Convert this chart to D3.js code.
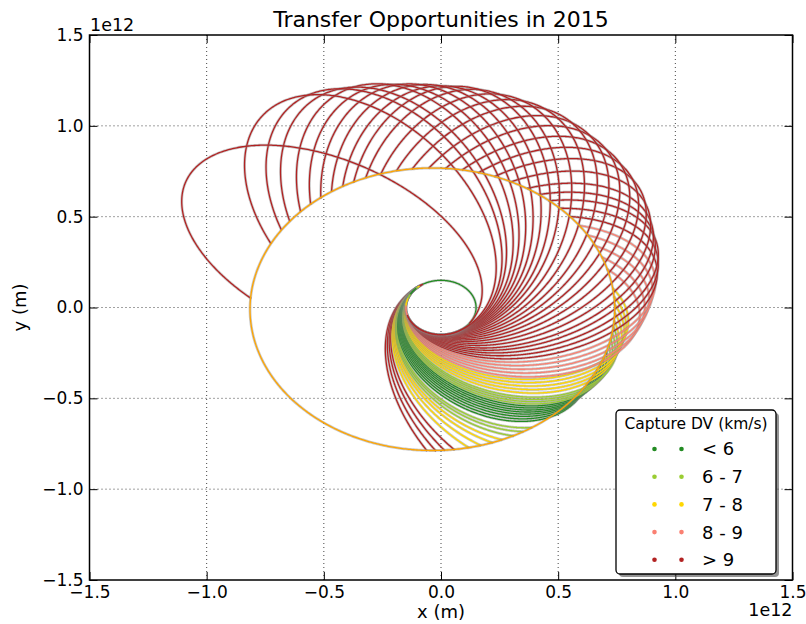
<!DOCTYPE html>
<html>
<head>
<meta charset="utf-8">
<script src="https://cdnjs.cloudflare.com/ajax/libs/d3/7.8.5/d3.min.js"></script>
<style>
body { margin: 0; background: #fff; }
text { font-family: "DejaVu Sans", sans-serif; fill: #000; }
.grid line { stroke: #444; stroke-width: 1; stroke-dasharray: 1,3; }
.axis path { display: none; }
.axis line { stroke: #000; stroke-width: 1; }
.axis text { font-size: 17px; font-family: "DejaVu Sans", sans-serif; fill: #000; }
.halo { fill: none; stroke: #888; stroke-opacity: 0.45; stroke-width: 2.8; }
.orbit { fill: none; stroke-width: 1.3; }
</style>
</head>
<body>
<div id="chart"></div>
<script>
// all distances in units of 1e12 m (the axes show the "1e12" offset)
var xTicks = [-1.5, -1.0, -0.5, 0.0, 0.5, 1.0, 1.5];
var yTicks = [-1.5, -1.0, -0.5, 0.0, 0.5, 1.0, 1.5];

var dvLabels = ["< 6", "6 - 7", "7 - 8", "8 - 9", "> 9"];
var dvColors = ["#228B22", "#9ACD32", "#FFD700", "#FA8072", "#B22222"];

// planets
var earthRadius = 0.1496;
var jupiterA = 0.7783, jupiterE = 0.0489, jupiterPeriLon = 14.75;

// one entry per transfer, in order of departure date
// departLon: heliocentric longitude of the Earth departure (deg), also the transfer perihelion
// aphelion: transfer aphelion distance
// arrivalLeg: 1 = arrive on the way out, 2 = arrive on the way back in
// dvClass: index into dvLabels
var departLon = [121, 123, 125, 126.5,
    127.5, 128.5, 129.5, 130.5,
    131.5, 132.5, 133.5,
    135, 137, 139, 141, 143, 145, 147, 149,
    151, 153, 155, 157,
    160, 163, 166, 169, 172,
    176, 180, 184, 188, 192,
    196, 200, 204, 208, 212, 217, 222, 227, 232, 237, 242, 247, 252, 257, 262, 266, 270, 274, 278, 282, 286, 291, 295, 301, 324];
var aphelion = [1.4, 1.35, 1.3, 1.22,
    1.08, 1.0, 0.94, 0.9,
    0.86, 0.83, 0.81,
    0.775, 0.772, 0.77, 0.77, 0.772, 0.775, 0.778, 0.782,
    0.787, 0.79, 0.793, 0.796,
    0.792, 0.795, 0.798, 0.80, 0.805,
    0.85, 0.87, 0.89, 0.91, 0.93,
    0.95, 0.97, 0.99, 1.0, 1.02, 1.05, 1.08, 1.1, 1.12, 1.14, 1.16, 1.18, 1.19, 1.2, 1.21, 1.22, 1.22, 1.23, 1.24, 1.25, 1.27, 1.28, 1.3, 1.32, 1.3];
var arrivalLeg = [1, 1, 1, 1,
    1, 1, 1, 1,
    1, 1, 1,
    2, 2, 2, 2, 2, 2, 2, 2,
    2, 2, 2, 2,
    2, 2, 2, 2, 2,
    2, 2, 2, 2, 2,
    2, 2, 2, 2, 2, 2, 2, 2, 2, 2, 2, 2, 2, 2, 2, 2, 2, 2, 2, 2, 2, 2, 2, 2, 2];
var dvClass = [4, 4, 4, 4,
    2, 2, 2, 2,
    1, 1, 1,
    0, 0, 0, 0, 0, 0, 0, 0,
    1, 1, 1, 1,
    2, 2, 2, 2, 2,
    3, 3, 3, 3, 3,
    4, 4, 4, 4, 4, 4, 4, 4, 4, 4, 4, 4, 4, 4, 4, 4, 4, 4, 4, 4, 4, 4, 4, 4, 4];

var RAD = Math.PI / 180;

function jupiterRadius(lonDeg) {
    return jupiterA * (1 - jupiterE * jupiterE) / (1 + jupiterE * Math.cos((lonDeg - jupiterPeriLon) * RAD));
}

/**
 * Points along one transfer conic, from Earth until it meets Jupiter's orbit
 */
function transferPoints(lon, Q, leg) {
    var q = earthRadius;
    var e = (Q - q) / (Q + q);
    var p = q * (1 + e);
    var pts = [];
    var crossed = 0, prev = -1;
    for (var nu = 0; nu <= 360; nu += 0.25) {
        var r = p / (1 + e * Math.cos(nu * RAD));
        var th = (lon + nu) * RAD;
        pts.push([r * Math.cos(th), r * Math.sin(th)]);
        var s = Math.sign(r - jupiterRadius(lon + nu));
        if (nu > 0 && s !== prev) {
            crossed++;
            if (crossed === leg) break;
        }
        prev = s;
    }
    return pts;
}

function TransferChart() {
    var self = this;
    self.init();
}

TransferChart.prototype.init = function () {
    var self = this;
    self.width = 806;
    self.height = 624;
    self.plot = {left: 89.5, right: 792.5, top: 35, bottom: 580};

    self.svg = d3.select("#chart").append("svg")
        .attr("width", self.width)
        .attr("height", self.height);

    self.x = d3.scaleLinear().domain([-1.5, 1.5]).range([self.plot.left, self.plot.right]);
    self.y = d3.scaleLinear().domain([-1.5, 1.5]).range([self.plot.bottom, self.plot.top]);

    self.svg.append("clipPath").attr("id", "plotClip")
        .append("rect")
        .attr("x", self.plot.left)
        .attr("y", self.plot.top)
        .attr("width", self.plot.right - self.plot.left)
        .attr("height", self.plot.bottom - self.plot.top);
};

TransferChart.prototype.update = function () {
    var self = this;
    var x = self.x, y = self.y, P = self.plot;

    //dotted grid
    var grid = self.svg.append("g").attr("class", "grid");
    grid.selectAll(".gx").data(xTicks.slice(1, -1)).enter().append("line")
        .attr("x1", function (d) { return x(d); })
        .attr("x2", function (d) { return x(d); })
        .attr("y1", P.top)
        .attr("y2", P.bottom);
    grid.selectAll(".gy").data(yTicks.slice(1, -1)).enter().append("line")
        .attr("y1", function (d) { return y(d); })
        .attr("y2", function (d) { return y(d); })
        .attr("x1", P.left)
        .attr("x2", P.right);

    var line = d3.line()
        .x(function (d) { return x(d[0]); })
        .y(function (d) { return y(d[1]); });

    var orbits = self.svg.append("g").attr("clip-path", "url(#plotClip)");

    var paths = [];
    paths.push({pts: d3.range(0, 360.5, 1).map(function (a) {
        return [earthRadius * Math.cos(a * RAD), earthRadius * Math.sin(a * RAD)];
    }), color: dvColors[0]});
    departLon.forEach(function (lon, i) {
        paths.push({pts: transferPoints(lon, aphelion[i], arrivalLeg[i]), color: dvColors[dvClass[i]]});
    });
    paths.push({pts: d3.range(0, 360.5, 0.5).map(function (a) {
        var r = jupiterRadius(a);
        return [r * Math.cos(a * RAD), r * Math.sin(a * RAD)];
    }), color: "#FFA500"});

    paths.forEach(function (d) {
        orbits.append("path").attr("class", "halo").attr("d", line(d.pts));
        orbits.append("path").attr("class", "orbit").attr("d", line(d.pts)).attr("stroke", d.color);
    });

    //axes, ticks pointing in on all four sides
    var fmt = d3.format(".1f");
    self.svg.append("g").attr("class", "axis")
        .attr("transform", "translate(0," + P.bottom + ")")
        .call(d3.axisBottom(x).tickValues(xTicks).tickSizeInner(-8).tickSizeOuter(0).tickPadding(6).tickFormat(fmt));
    self.svg.append("g").attr("class", "axis")
        .attr("transform", "translate(0," + P.top + ")")
        .call(d3.axisTop(x).tickValues(xTicks).tickSizeInner(-8).tickSizeOuter(0).tickFormat(""));
    self.svg.append("g").attr("class", "axis")
        .attr("transform", "translate(" + P.left + ",0)")
        .call(d3.axisLeft(y).tickValues(yTicks).tickSizeInner(-8).tickSizeOuter(0).tickPadding(6).tickFormat(fmt));
    self.svg.append("g").attr("class", "axis")
        .attr("transform", "translate(" + P.right + ",0)")
        .call(d3.axisRight(y).tickValues(yTicks).tickSizeInner(-8).tickSizeOuter(0).tickFormat(""));

    self.svg.append("rect")
        .attr("x", P.left).attr("y", P.top)
        .attr("width", P.right - P.left).attr("height", P.bottom - P.top)
        .attr("fill", "none").attr("stroke", "#000").attr("stroke-width", 1.5);

    //titles and offset labels
    self.svg.append("text")
        .attr("x", (P.left + P.right) / 2).attr("y", 26.5)
        .attr("text-anchor", "middle").style("font-size", "22px")
        .text("Transfer Opportunities in 2015");
    self.svg.append("text")
        .attr("x", (P.left + P.right) / 2).attr("y", 618)
        .attr("text-anchor", "middle").style("font-size", "18px")
        .text("x (m)");
    self.svg.append("text")
        .attr("transform", "translate(26," + (P.top + P.bottom) / 2 + ") rotate(-90)")
        .attr("text-anchor", "middle").style("font-size", "18px")
        .text("y (m)");
    self.svg.append("text")
        .attr("x", P.left + 0.5).attr("y", 31)
        .style("font-size", "17.5px").text("1e12");
    self.svg.append("text")
        .attr("x", P.right).attr("y", 616)
        .attr("text-anchor", "end").style("font-size", "17.5px").text("1e12");

    //legend with drop shadow
    var lg = self.svg.append("g").attr("transform", "translate(616,410)");
    lg.append("rect").attr("x", 3).attr("y", 3).attr("width", 160).attr("height", 164).attr("rx", 4)
        .attr("fill", "#4d4d4d").attr("opacity", 0.6);
    lg.append("rect").attr("width", 160).attr("height", 164).attr("rx", 4)
        .attr("fill", "#fff").attr("stroke", "#000").attr("stroke-width", 1.3);
    lg.append("text").attr("x", 80).attr("y", 19).attr("text-anchor", "middle")
        .style("font-size", "15.5px").text("Capture DV (km/s)");
    var items = lg.selectAll(".item").data(dvLabels).enter().append("g")
        .attr("class", "item")
        .attr("transform", function (d, i) { return "translate(0," + (39 + i * 27.7) + ")"; });
    items.append("circle").attr("cx", 38.5).attr("r", 2.3)
        .attr("fill", function (d, i) { return dvColors[i]; });
    items.append("circle").attr("cx", 65.5).attr("r", 2.3)
        .attr("fill", function (d, i) { return dvColors[i]; });
    items.append("text").attr("x", 86).attr("dy", "0.36em")
        .style("font-size", "18px").text(function (d) { return d; });
};

var chart = new TransferChart();
chart.update();
</script>
</body>
</html>
